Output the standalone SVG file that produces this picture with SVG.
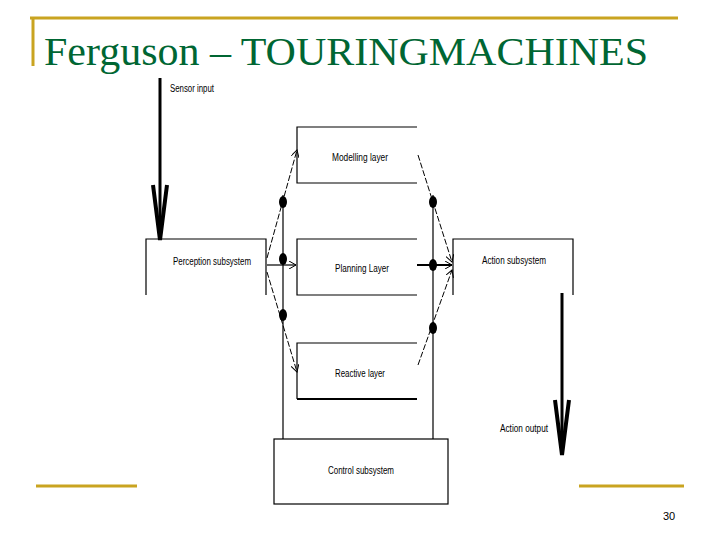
<svg xmlns="http://www.w3.org/2000/svg" width="720" height="540" viewBox="0 0 720 540">
<style>
.g{stroke:#c9a420;stroke-width:3;fill:none}
.b{stroke:#000;stroke-width:1.2;fill:none}
.d{stroke:#000;stroke-width:1;fill:none;stroke-dasharray:6 2}
.t{font-family:"Liberation Sans Narrow","Liberation Sans",sans-serif;font-size:10px;fill:#000;text-anchor:middle}
</style>
<defs>
<marker id="a" markerWidth="8" markerHeight="8" refX="7" refY="4" orient="auto" markerUnits="userSpaceOnUse"><path d="M0,0L7,4L0,8" fill="none" stroke="#000"/></marker>
</defs>
<rect width="720" height="540" fill="#fff"/>
<path class="g" d="M30,18H678M33,18V66M36,486H137M579,486H684"/>
<text x="44" y="65" font-family="Liberation Serif,serif" font-size="40" fill="#006633" textLength="604" lengthAdjust="spacingAndGlyphs">Ferguson – TOURINGMACHINES</text>
<text x="669" y="520" font-family="Liberation Sans,sans-serif" font-size="11" text-anchor="middle">30</text>
<g id="perception"><path class="b" d="M146,295V239H266V295"/><text class="t" x="212" y="265" textLength="78" lengthAdjust="spacingAndGlyphs">Perception subsystem</text></g>
<g id="modelling"><path class="b" d="M417,127H297V183H417"/><text class="t" x="360" y="161" textLength="56" lengthAdjust="spacingAndGlyphs">Modelling layer</text></g>
<g id="planning"><path class="b" d="M417,239H297V295H417"/><text class="t" x="362" y="272" textLength="54" lengthAdjust="spacingAndGlyphs">Planning Layer</text></g>
<g id="reactive"><path class="b" d="M417,343H297V399"/><path d="M297,399H417" stroke="#000" stroke-width="2"/><text class="t" x="360" y="377" textLength="50" lengthAdjust="spacingAndGlyphs">Reactive layer</text></g>
<g id="action"><path class="b" d="M453,295V239H573V295"/><text class="t" x="514" y="264" textLength="64" lengthAdjust="spacingAndGlyphs">Action subsystem</text></g>
<g id="control"><rect class="b" x="274" y="439" width="174" height="65"/><text class="t" x="361" y="474" textLength="66" lengthAdjust="spacingAndGlyphs">Control subsystem</text></g>
<g id="connectors">
<path class="b" d="M283,195V439M433,195V439"/>
<path class="d" d="M267,258L297,150" marker-end="url(#a)"/>
<path class="b" d="M267,265H296" marker-end="url(#a)"/>
<path class="d" d="M267,272L297,372" marker-end="url(#a)"/>
<path class="d" d="M418,155L452,262" marker-end="url(#a)"/>
<path d="M417,265H452" stroke="#000" stroke-width="2" marker-end="url(#a)"/>
<path class="d" d="M418,365L452,270" marker-end="url(#a)"/>
<g fill="#000"><ellipse cx="283" cy="202" rx="4" ry="6"/><ellipse cx="283" cy="259" rx="4" ry="6"/><ellipse cx="283" cy="315" rx="4" ry="6"/><ellipse cx="433" cy="202" rx="4" ry="6"/><ellipse cx="433" cy="265" rx="4" ry="6"/><ellipse cx="433" cy="328" rx="4" ry="6"/></g>
<path d="M160,78V238" stroke="#000" stroke-width="3"/>
<path d="M153,185L160,240L167,185" stroke="#000" stroke-width="4" fill="none"/>
<path d="M562,293V453" stroke="#000" stroke-width="3"/>
<path d="M555,400L562,455L569,400" stroke="#000" stroke-width="4" fill="none"/>
<text class="t" x="192" y="92" textLength="44" lengthAdjust="spacingAndGlyphs">Sensor input</text>
<text class="t" x="524" y="432" textLength="48" lengthAdjust="spacingAndGlyphs">Action output</text>
</g>
</svg>
